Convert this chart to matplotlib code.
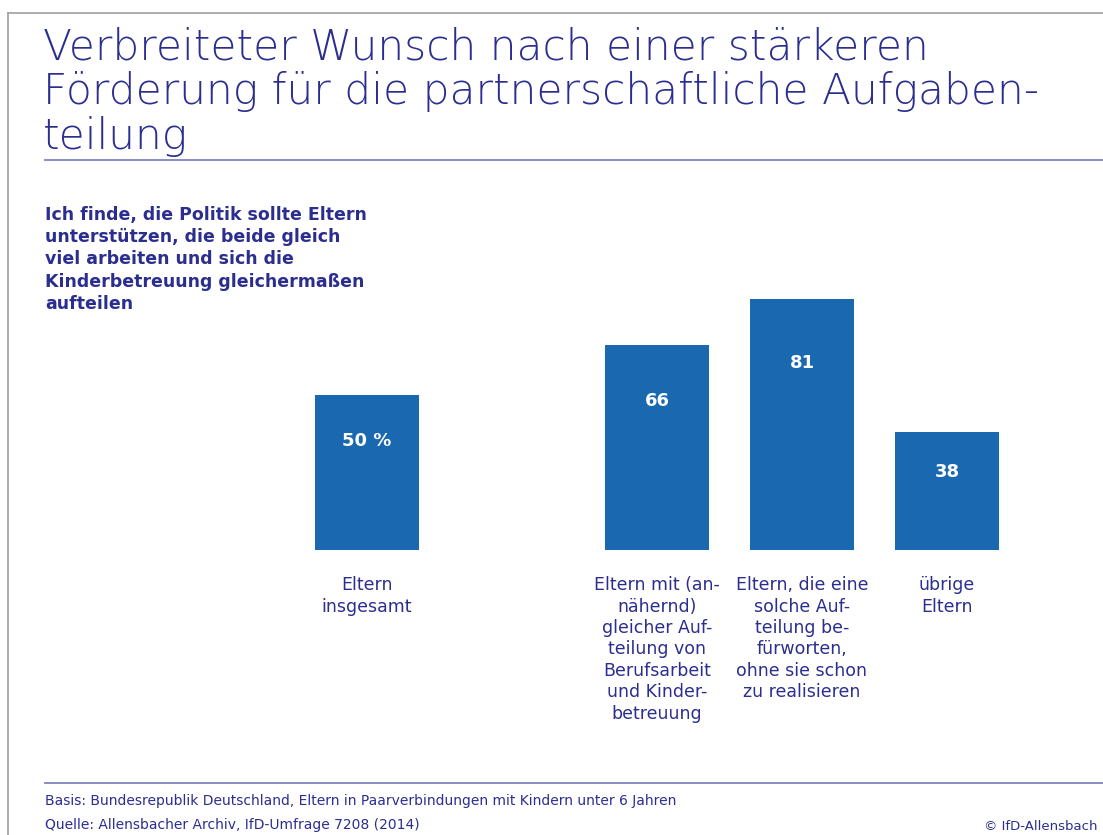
import matplotlib as mpl
mpl.use('Agg')
import matplotlib.pyplot as plt
from matplotlib.lines import Line2D

plt.rcParams['font.family'] = ['DejaVu Sans']

# data
positions = [0, 2, 3, 4]
values = [50, 66, 81, 38]
value_labels = ['50 %', '66', '81', '38']
categories = ['Eltern\ninsgesamt',
              'Eltern mit (an-\nnähernd)\ngleicher Auf-\nteilung von\nBerufsarbeit\nund Kinder-\nbetreuung',
              'Eltern, die eine\nsolche Auf-\nteilung be-\nfürworten,\nohne sie schon\nzu realisieren',
              'übrige\nEltern']

title = 'Verbreiteter Wunsch nach einer stärkeren\nFörderung für die partnerschaftliche Aufgaben-\nteilung'
question = ('Ich finde, die Politik sollte Eltern\nunterstützen, die beide gleich\n'
            'viel arbeiten und sich die\nKinderbetreuung gleichermaßen\naufteilen')
basis = 'Basis: Bundesrepublik Deutschland, Eltern in Paarverbindungen mit Kindern unter 6 Jahren'
quelle = 'Quelle: Allensbacher Archiv, IfD-Umfrage 7208 (2014)'
copyright_txt = '© IfD-Allensbach'

navy = '#2b2e8f'
bar_blue = '#1a68b0'
rule = '#7f82c2'

W, H = 1103, 835
fig = plt.figure(figsize=(W / 100, H / 100), dpi=100)

def fx(px):
    return px / W

def fy(py):
    return 1 - py / H

# frame (top and left grey border)
fig.add_artist(Line2D([fx(8), 1], [fy(13), fy(13)], color='#a0a0a0', lw=1.2))
fig.add_artist(Line2D([fx(8), fx(8)], [fy(13), 0], color='#a0a0a0', lw=1.2))

# title
fig.text(fx(43), fy(27), title, ha='left', va='top', fontsize=30.5, color=navy,
         fontweight='light', linespacing=1.1)
fig.add_artist(Line2D([fx(45), 1], [fy(160), fy(160)], color=rule, lw=1.3))

# question text
fig.text(fx(45), fy(206), question, ha='left', va='top', fontsize=12.5, color=navy,
         fontweight='bold', linespacing=1.3)

# bars
ax = fig.add_axes([fx(222), fy(550), fx(870), 310 / H])
ax.bar(positions, values, width=0.724, color=bar_blue)
ax.set_xlim(-1, 5)
ax.set_ylim(0, 100)
ax.axis('off')

for p, v, lab in zip(positions, values, value_labels):
    ax.text(p, 0.82 * v - 6, lab, ha='center', va='center', color='white',
            fontsize=13, fontweight='bold')

for p, cat in zip(positions, categories):
    ax.text(p, -8.5, cat, ha='center', va='top', color=navy, fontsize=12.5,
            linespacing=1.24, clip_on=False)

# footer
fig.add_artist(Line2D([fx(45), 1], [fy(783), fy(783)], color=rule, lw=1.3))
fig.text(fx(45), fy(801), basis, ha='left', va='center', fontsize=10, color=navy)
fig.text(fx(45), fy(825), quelle, ha='left', va='center', fontsize=10, color=navy)
fig.text(fx(1098), fy(826), copyright_txt, ha='right', va='center', fontsize=9.5, color=navy)

fig.savefig('out.png', dpi=100)
